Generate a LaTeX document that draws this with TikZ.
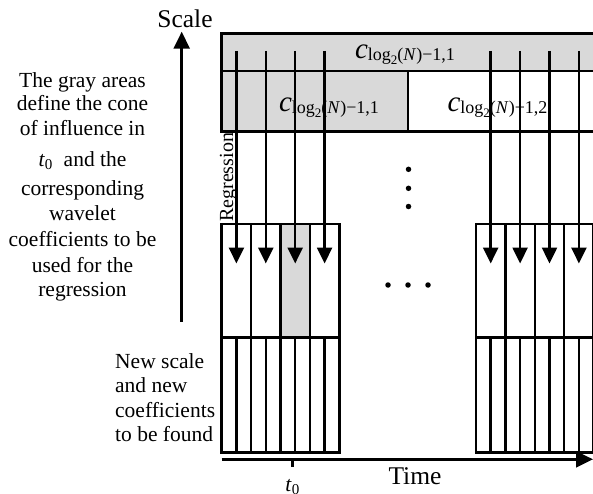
\documentclass[tikz,border=0pt]{standalone}
\usepackage{fontspec}
\setmainfont{Liberation Serif}
\usetikzlibrary{arrows.meta}
\definecolor{coigray}{RGB}{217,217,217}
\tikzset{
  cellline/.style={line width=2.5pt},
  downflow/.style={line width=2.5pt,-{Triangle[length=16pt,width=15pt]}},
  axisarrow/.style={line width=2.5pt,-{Triangle[length=17pt,width=16pt]}},
  txt/.style={font=\fontsize{21.5}{25}\selectfont,inner sep=0pt},
  bigtxt/.style={font=\fontsize{25.5}{28}\selectfont,inner sep=0pt},
  dotmark/.style={fill=black,circle,inner sep=0pt,minimum size=5.5pt},
}
% wavelet coefficient label c_{log2(N)-1,k}
\newcommand{\coef}[1]{{\fontsize{29}{30}\selectfont\itshape c}\raisebox{-2pt}{\fontsize{18}{18}\selectfont log\raisebox{-4pt}{\fontsize{13}{13}\selectfont 2}(\textit{N})−1,#1}}
\newcommand{\tzero}{\textit{t}\textsubscript{0}}
\begin{document}
\begin{tikzpicture}[x=1pt,y=-1pt]
\useasboundingbox (0,0) rectangle (593,494);
\clip (0,0) rectangle (593,494);

% coarse scale rows
\fill[coigray] (221.7,33.3) rectangle (600,71);
\fill[coigray] (221.7,71) rectangle (408,131.7);
\draw[cellline] (221.7,33.3) rectangle (600,131.7);
\draw[cellline] (221.7,71) -- (600,71);
\draw[cellline] (408,71) -- (408,131.7);
\node[txt,anchor=base] (ctop) at (405,58.3) {\coef{1}};
\node[txt,anchor=base] (cleft) at (329,111.7) {\coef{1}};
\node[txt,anchor=base] (cright) at (497.5,111.7) {\coef{2}};

% finest scale blocks
\fill[coigray] (280.5,224) rectangle (309.9,337.3);
\foreach \xs in {221.7,476} {
  \draw[cellline] (\xs,224) rectangle ({\xs+117.6},452.7);
  \draw[cellline] (\xs,337.3) -- ({\xs+117.6},337.3);
  \foreach \k in {1,2,3}
    \draw[cellline] ({\xs+29.4*\k},224) -- ({\xs+29.4*\k},452.7);
  \foreach \k in {0,1,2,3}
    \draw[cellline] ({\xs+14.7+29.4*\k},337.3) -- ({\xs+14.7+29.4*\k},452.7);
}

% regression arrows
\foreach \xa [count=\i] in {236.4,265.8,295.2,324.6,490.7,520.1,549.5,578.9} {
  \coordinate (s\i) at (\xa,51);
  \coordinate (e\i) at (\xa,263.5);
  \draw[downflow] (s\i) -- (e\i);
}
\node[font=\fontsize{20}{22}\selectfont,inner sep=0pt,rotate=90,anchor=base west] (reg) at (233,222) {Regression};

% ellipsis dots
\node[dotmark] (v1) at (408.5,169.3) {};
\node[dotmark] (v2) at (408.5,188.3) {};
\node[dotmark] (v3) at (408.5,206.5) {};
\node[dotmark] (h1) at (388,285) {};
\node[dotmark] (h2) at (408,285) {};
\node[dotmark] (h3) at (428,285) {};

% axes
\coordinate (sc0) at (181.7,321.7);
\coordinate (sc1) at (181.7,31.7);
\draw[axisarrow] (sc0) -- (sc1);
\node[bigtxt,anchor=base] (scale) at (185,28) {Scale};
\coordinate (t0) at (221.7,459.3);
\coordinate (t1) at (593,459.3);
\draw[axisarrow] (t0) -- (t1);
\coordinate (k0) at (292.7,459.3);
\coordinate (k1) at (292.7,467);
\draw[cellline] (k0) -- (k1);
\node[bigtxt,anchor=base] (time) at (415,484) {Time};
\node[txt,anchor=base] (tlab) at (292.7,491) {\tzero};

% explanatory text
\node[txt,anchor=base] (l1) at (82.5,88) {The gray areas};
\node[txt,anchor=base] (l2) at (82.5,111) {define the cone};
\node[txt,anchor=base] (l3) at (82.5,135.5) {of influence in};
\node[txt,anchor=base] (l4) at (82.5,166.5) {\tzero\ \ and the};
\node[txt,anchor=base] (l5) at (82.5,195) {corresponding};
\node[txt,anchor=base] (l6) at (82.5,220.5) {wavelet};
\node[txt,anchor=base] (l7) at (82.5,246.5) {coefficients to be};
\node[txt,anchor=base] (l8) at (82.5,272) {used for the};
\node[txt,anchor=base] (l9) at (82.5,296.5) {regression};

\node[txt,anchor=base west] (n1) at (115,368) {New scale};
\node[txt,anchor=base west] (n2) at (115,392.5) {and new};
\node[txt,anchor=base west] (n3) at (115,417) {coefficients};
\node[txt,anchor=base west] (n4) at (115,441.5) {to be found};
\end{tikzpicture}
\end{document}
